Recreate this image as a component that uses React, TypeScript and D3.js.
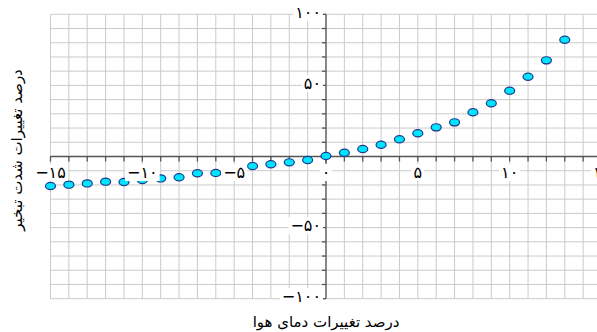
import React, { useEffect, useRef } from "react";
import * as d3 from "d3";

const xValues = [-15, -14, -13, -12, -11, -10, -9, -8, -7, -6, -5, -4, -3, -2, -1, 0, 1, 2, 3, 4, 5, 6, 7, 8, 9, 10, 11, 12, 13];
const yValues = [-20.7, -19.8, -18.9, -17.7, -17.9, -16.5, -15.4, -14.6, -11.8, -11.6, -9.5, -6.7, -5.5, -4.1, -2.5, 0.3, 2.7, 5.3, 8.3, 12.1, 16.3, 20.5, 24.0, 31.1, 37.4, 46.3, 56.1, 67.6, 82.1];

const xTickValues = [-15, -10, -5, 0, 5, 10, 15];
const xTickLabels = ["−۱۵", "−۱۰", "−۵", "۰", "۵", "۱۰", "۱۵"];
const yTickValues = [-100, -50, 50, 100];
const yTickLabels = ["−۱۰۰", "−۵۰", "۵۰", "۱۰۰"];

const xTitle = "درصد تغییرات دمای هوا";
const yTitle = "درصد تغییرات شدت تبخیر";

export default function App() {
  const ref = useRef<SVGSVGElement>(null);

  useEffect(() => {
    document.body.style.margin = "0";
    const width = 597;
    const height = 332;
    const svg = d3.select(ref.current);
    svg.selectAll("*").remove();
    svg.attr("width", width).attr("height", height).style("display", "block");

    const x = d3.scaleLinear().domain([-15, 15]).range([50.5, 601.5]);
    const y = d3.scaleLinear().domain([-100, 100]).range([298.7, 14.3]);
    const font = "'DejaVu Sans', sans-serif";

    // grid
    const grid = svg.append("g").attr("stroke", "#cbcbcb").attr("stroke-width", 1);
    grid.selectAll("line.v")
      .data(d3.range(-15, 16))
      .join("line")
      .attr("x1", d => x(d)).attr("x2", d => x(d))
      .attr("y1", y(100)).attr("y2", y(-100));
    grid.selectAll("line.h")
      .data(d3.range(-100, 101, 10))
      .join("line")
      .attr("x1", x(-15)).attr("x2", width)
      .attr("y1", d => y(d)).attr("y2", d => y(d));

    // axes
    const axis = svg.append("g").attr("stroke", "#555").attr("stroke-width", 1.3);
    axis.append("line")
      .attr("x1", x(-15)).attr("x2", width)
      .attr("y1", y(0)).attr("y2", y(0));
    axis.selectAll("line.xt")
      .data(d3.range(-15, 16))
      .join("line")
      .attr("class", "xt")
      .attr("x1", d => x(d)).attr("x2", d => x(d))
      .attr("y1", y(0)).attr("y2", y(0) + 5);
    axis.append("line")
      .attr("x1", x(0)).attr("x2", x(0))
      .attr("y1", y(100)).attr("y2", y(-100));
    axis.selectAll("line.yt")
      .data(d3.range(-100, 101, 10))
      .join("line")
      .attr("class", "yt")
      .attr("x1", x(0) - 4).attr("x2", x(0))
      .attr("y1", d => y(d)).attr("y2", d => y(d));

    // points
    svg.append("g")
      .selectAll("ellipse")
      .data(xValues)
      .join("ellipse")
      .attr("cx", d => x(d))
      .attr("cy", (d, i) => y(yValues[i]))
      .attr("rx", 5)
      .attr("ry", 3.6)
      .attr("fill", "#00e5ff")
      .attr("stroke", "#1d3b8f")
      .attr("stroke-width", 1.2);

    // tick labels with white backing
    const addLabel = (g, tx, ty, text, anchor) => {
      const t = g.append("text")
        .attr("x", tx).attr("y", ty)
        .attr("text-anchor", anchor)
        .attr("dominant-baseline", "central")
        .attr("direction", "ltr")
        .attr("font-family", font)
        .attr("font-size", 16)
        .attr("fill", "#000")
        .text(text);
      const b = t.node().getBBox();
      g.insert("rect", () => t.node())
        .attr("x", b.x - 2).attr("y", b.y + 1)
        .attr("width", b.width + 4).attr("height", b.height - 2)
        .attr("fill", "#fff");
    };
    const labels = svg.append("g");
    xTickValues.forEach((v, i) => addLabel(labels, x(v), y(0) + 16, xTickLabels[i], "middle"));
    yTickValues.forEach((v, i) => addLabel(labels, x(0) - 5, y(v) - 2, yTickLabels[i], "end"));

    // titles
    svg.append("text")
      .attr("x", 326).attr("y", 327)
      .attr("text-anchor", "middle")
      .attr("direction", "rtl")
      .attr("font-family", font)
      .attr("font-size", 15)
      .text(xTitle);
    svg.append("text")
      .attr("transform", "translate(22,150) rotate(-90)")
      .attr("text-anchor", "middle")
      .attr("direction", "rtl")
      .attr("font-family", font)
      .attr("font-size", 15)
      .text(yTitle);
  }, []);

  return <svg ref={ref}></svg>;
}
